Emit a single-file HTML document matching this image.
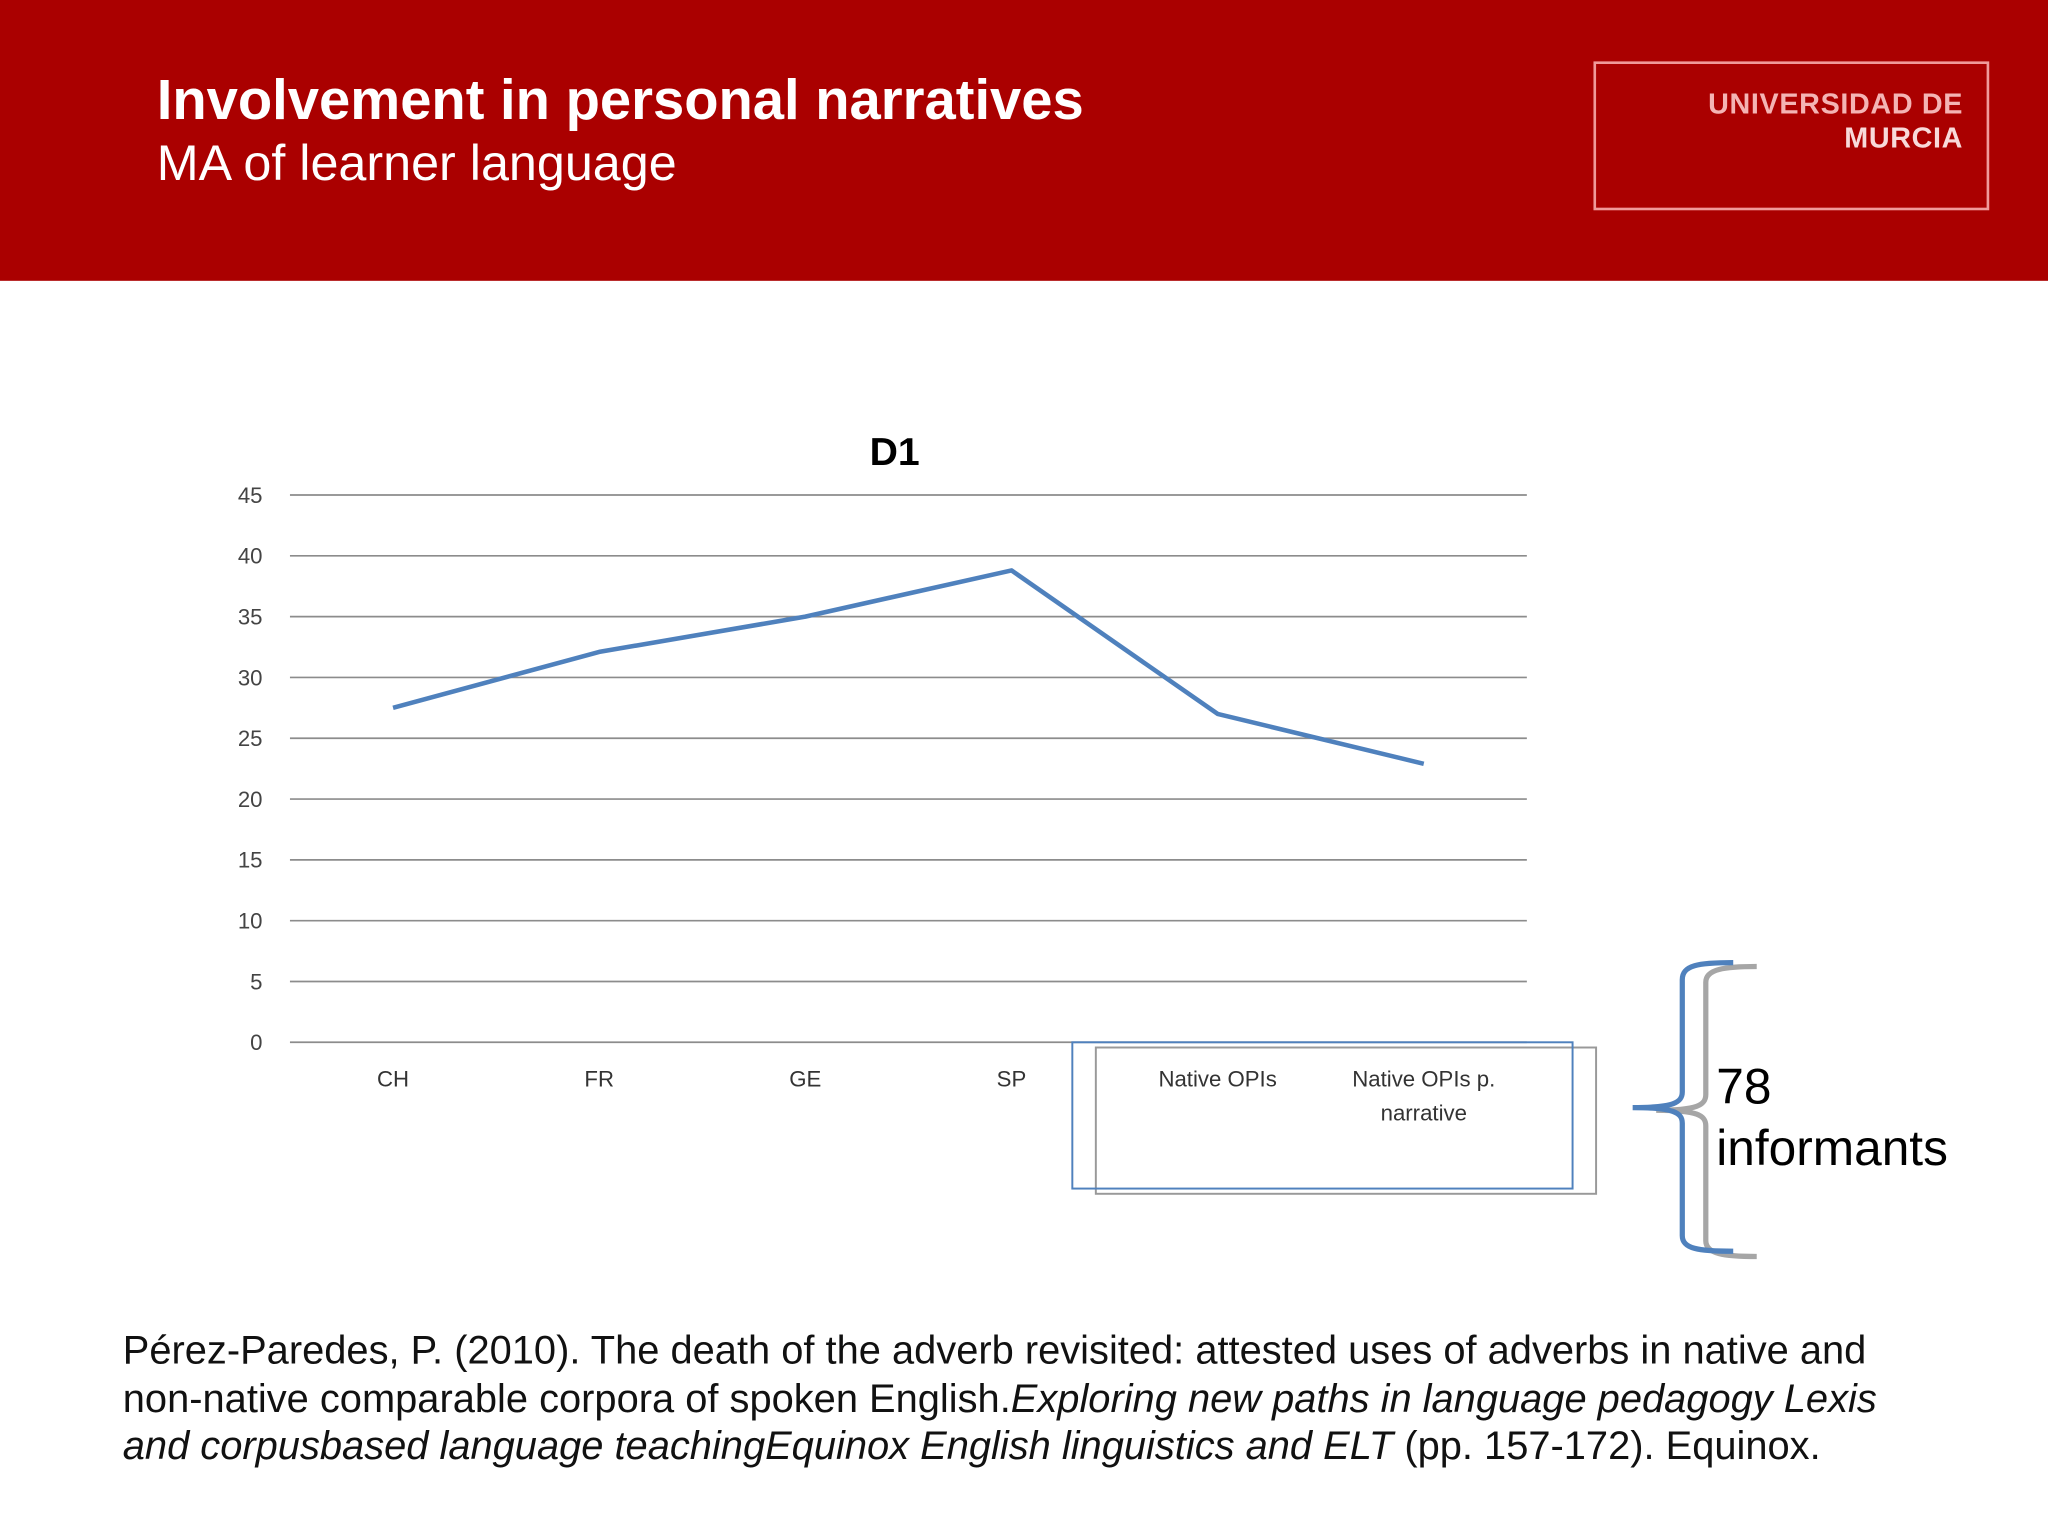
<!DOCTYPE html>
<html><head><meta charset="utf-8"><style>
html,body{margin:0;padding:0;background:#fff;overflow:hidden}
#stage{width:1568px;height:1176px;position:relative;transform:scale(1.306122);transform-origin:0 0;font-family:"Liberation Sans",sans-serif}
.hdr{position:absolute;left:0;top:0;width:1568px;height:215px;background:#aa0000}
.t1{position:absolute;left:120px;top:53px;font-size:43px;font-weight:bold;color:#fff}
.t2{position:absolute;left:120px;top:104px;font-size:38.5px;color:#fff}
.logo{position:absolute;left:1220px;top:47px;width:299px;height:110px;border:2px solid #f09a9a}
.logo div{position:absolute;right:18px;color:#f4b4b4;font-weight:bold;font-size:22px;text-align:right;letter-spacing:0.5px}
.ref{position:absolute;left:94px;top:1016px;font-size:30.5px;line-height:36.5px;color:#111;white-space:nowrap}
</style></head><body>
<div id="stage">
<div class="hdr"></div>
<div class="t1">Involvement in personal narratives</div>
<div class="t2">MA of learner language</div>
<div class="logo"><div style="top:18px">UNIVERSIDAD DE</div><div style="top:44px;color:#f8dada">MURCIA</div></div>
<svg id="chart" width="1568" height="1176" style="position:absolute;left:0;top:0"></svg>
<div class="ref">Pérez-Paredes, P. (2010). The death of the adverb revisited: attested uses of adverbs in native and<br>non-native comparable corpora of spoken English.<i>Exploring new paths in language pedagogy Lexis</i><br><i>and corpusbased language teachingEquinox English linguistics and ELT</i> (pp. 157-172). Equinox.</div>
</div>
<script>
const categories=["CH","FR","GE","SP","Native OPIs","Native OPIs p.|narrative"];
const values=[27.5,32.1,35,38.8,27,22.9];
const yTicks=[0,5,10,15,20,25,30,35,40,45];
const NS="http://www.w3.org/2000/svg";
const svg=document.getElementById('chart');
const x0=222,x1=1169,yb=798,yt=379;
function yS(v){return yb-(v/45)*(yb-yt);}
function xS(i){return x0+(x1-x0)/categories.length*(i+0.5);}
function mk(t,a,p){const e=document.createElementNS(NS,t);for(const k in a)e.setAttribute(k,a[k]);(p||svg).appendChild(e);return e;}
const font='"Liberation Sans","DejaVu Sans",sans-serif';
let tt=mk('text',{x:685,y:356,'text-anchor':'middle','font-size':30,'font-weight':'bold','font-family':font,fill:'#000'});tt.textContent='D1';


yTicks.forEach(v=>{
 const l=mk('line',{x1:x0,x2:x1,y1:yS(v),y2:yS(v),stroke:'#8c8c8c','stroke-width':1.3});
 
 
 const t=mk('text',{x:201,y:yS(v)+6,'text-anchor':'end','font-size':17,'font-family':font,fill:'#444'});t.textContent=v;
 
 
});
categories.forEach((c,i)=>{
 c.split('|').forEach((s,j)=>{
  const t=mk('text',{x:xS(i),y:832+j*26,'text-anchor':'middle','font-size':17,'font-family':font,fill:'#333'});t.textContent=s;
  
  
 });
});
const pl=mk('polyline',{points:values.map((v,i)=>xS(i)+','+yS(v)).join(' '),fill:'none',stroke:'#4f81bd','stroke-width':3.5,'stroke-linejoin':'round'});


let r=mk('rect',{x:839,y:802,width:383,height:112,fill:'none',stroke:'#999','stroke-width':1.5});


r=mk('rect',{x:821,y:798,width:383,height:112,fill:'none',stroke:'#4f81bd','stroke-width':1.5});


let b=mk('path',{d:'M1345,740 C1320,740 1306,742 1306,752 L1306,838 C1306,846 1300,850 1268,850 C1300,850 1306,854 1306,862 L1306,950 C1306,960 1320,962 1345,962',fill:'none',stroke:'#a6a6a6','stroke-width':4});


b=mk('path',{d:'M1327,737 C1300,737 1288,739 1288,750 L1288,836 C1288,844 1282,848 1250,848 C1282,848 1288,852 1288,860 L1288,946 C1288,956 1300,958 1327,958',fill:'none',stroke:'#4f81bd','stroke-width':4});


let a=mk('text',{x:1314,y:845,'font-size':38,'font-family':font,fill:'#000'});a.textContent='78';


a=mk('text',{x:1314,y:892,'font-size':38,'font-family':font,fill:'#000'});a.textContent='informants';


</script>
</body></html>
